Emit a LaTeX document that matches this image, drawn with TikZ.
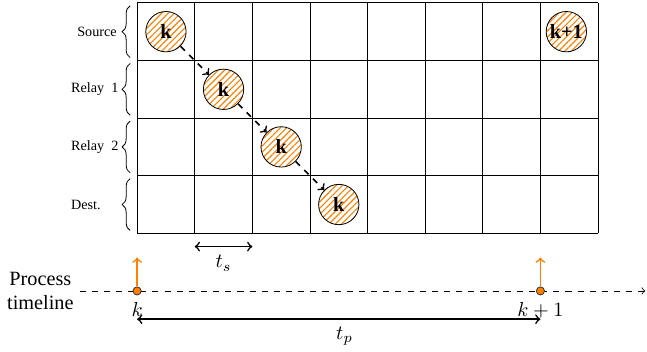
\documentclass[tikz,border=0pt]{standalone}
\usepackage{fontspec}
\setmainfont{Liberation Serif}
\usepackage{tikz}
\usetikzlibrary{positioning}
\usetikzlibrary{patterns.meta}
\usetikzlibrary{decorations.pathreplacing}
\usepackage{xcolor}
\definecolor{pktorange}{RGB}{255, 128, 0}

\begin{document}
\begin{tikzpicture}[
  pkt/.style={circle,draw=black,pattern={Lines[angle=45,distance=2.2pt,line width=0.55pt]},
    pattern color=pktorange,minimum size=0.7cm,inner sep=0pt,font=\bfseries},
  hop/.style={->,dashed,thick},
  rowbrace/.style={decorate,decoration={brace,amplitude=4pt}},
  lbl/.style={font=\scriptsize,anchor=east},
  dot/.style={circle,draw=black!80,fill=pktorange,minimum size=4pt,inner sep=0pt},
  evt/.style={->,thick,color=pktorange},
  span/.style={<->,thick}
]
  \useasboundingbox (-2.38,-2.05) rectangle (8.85,4.05);
  \draw (0,0) grid (8,4);

  \node[pkt] (pS) at (0.5,3.5) {k};
  \node[pkt] (pR1) at (1.5,2.5) {k};
  \node[pkt] (pR2) at (2.5,1.5) {k};
  \node[pkt] (pD) at (3.5,0.5) {k};
  \node[pkt] (pS2) at (7.45,3.5) {k+1};
  \draw[hop] (pS)--(pR1);
  \draw[hop] (pR1)--(pR2);
  \draw[hop] (pR2)--(pD);

  \draw[rowbrace] (-0.12,3.05)--(-0.12,3.95);
  \draw[rowbrace] (-0.12,2.05)--(-0.12,2.95);
  \draw[rowbrace] (-0.12,1.05)--(-0.12,1.95);
  \draw[rowbrace] (-0.12,0.05)--(-0.12,0.95);
  \node[lbl] (lS) at (-0.23,3.5) {Source};
  \node[lbl] (lR1) at (-0.2,2.5) {Relay~~1};
  \node[lbl] (lR2) at (-0.2,1.5) {Relay~~2};
  \node[lbl] (lD) at (-0.51,0.5) {Dest.};

  \coordinate (tsA) at (1,-0.23);
  \coordinate (tsB) at (2,-0.23);
  \draw[span] (tsA)--(tsB);
  \node (ts) at (1.5,-0.52) {$t_s$};

  \coordinate (tlA) at (-1,-1);
  \coordinate (tlB) at (8.82,-1);
  \draw[->,dashed] (tlA)--(tlB);
  \node[align=center] (tl) at (-1.68,-1) {Process\\timeline};

  \node[dot] (dk) at (0,-1) {};
  \node[dot] (dk1) at (7,-1) {};
  \coordinate (ek) at (0,-0.42);
  \coordinate (ek1) at (7,-0.42);
  \draw[evt] (dk)--(ek);
  \draw[evt] (dk1)--(ek1);
  \node[below=0pt of dk] (nk) {$k$};
  \node[below=0pt of dk1] (nk1) {$k+1$};

  \coordinate (tpA) at (0,-1.49);
  \coordinate (tpB) at (7,-1.49);
  \draw[span] (tpA)--(tpB);
  \node (tp) at (3.6,-1.78) {$t_p$};
\end{tikzpicture}
\end{document}
